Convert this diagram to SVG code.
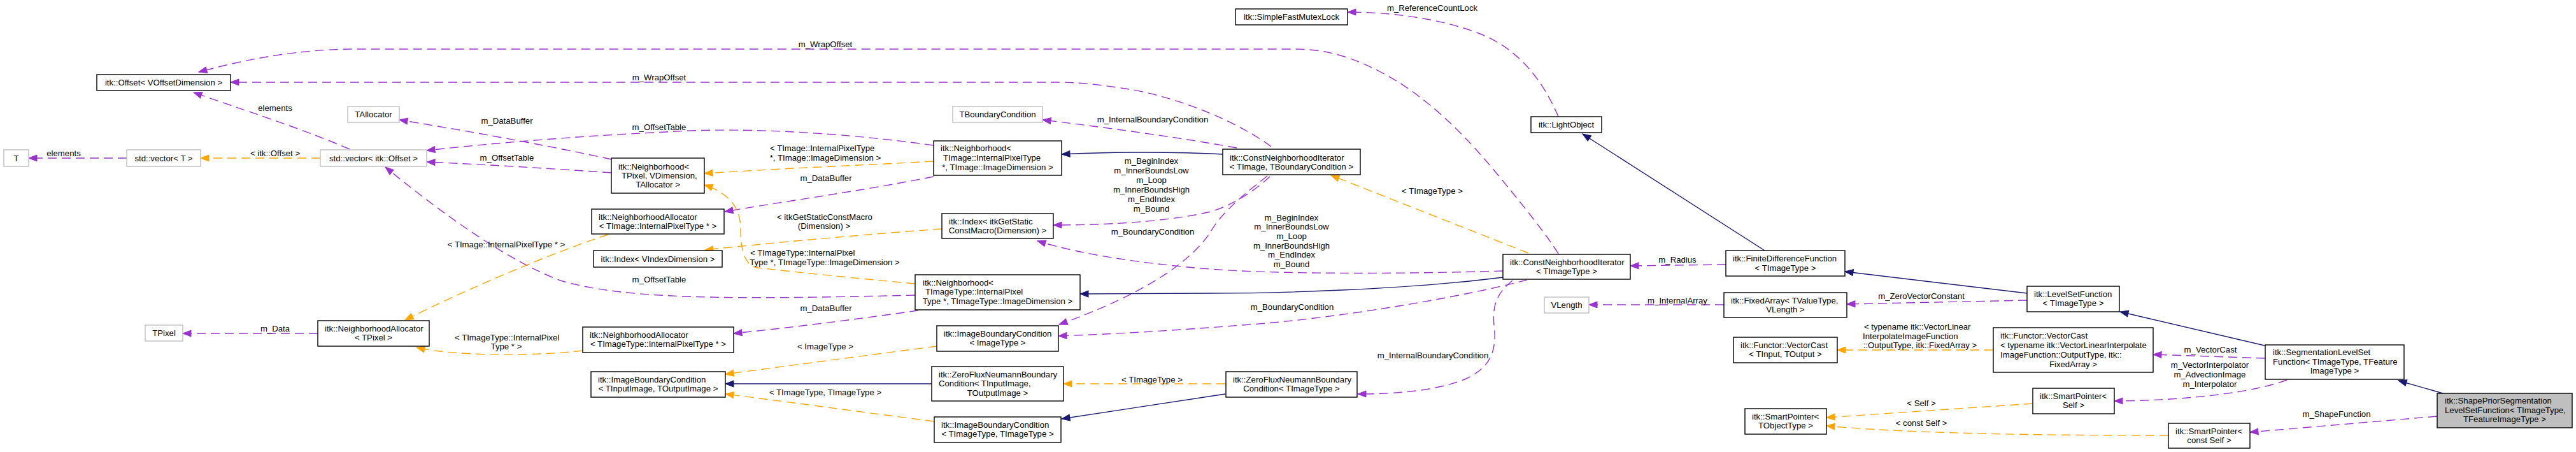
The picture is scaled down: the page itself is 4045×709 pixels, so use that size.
<svg xmlns="http://www.w3.org/2000/svg" width="4045" height="709" viewBox="0 0 4045 709">
<style>
text{font-family:"Liberation Sans",Arial,Helvetica,sans-serif;font-size:13.2px;fill:#000}
.m{text-anchor:middle}
.s{text-anchor:start}
.node rect{fill:#fff;stroke:#000;stroke-width:1.4}
.node.u rect{stroke:#bfbfbf}
.node.cur rect{fill:#bfbfbf}
.p{fill:none;stroke:#9a32cd;stroke-width:1.4;stroke-dasharray:14,8;marker-end:url(#ap)}
.o{fill:none;stroke:#ffa500;stroke-width:1.4;stroke-dasharray:14,8;marker-end:url(#ao)}
.b{fill:none;stroke:#191970;stroke-width:1.4;marker-end:url(#ab)}
</style>
<defs>
<marker id="ap" markerUnits="userSpaceOnUse" markerWidth="14" markerHeight="11" refX="13" refY="5" orient="auto" overflow="visible"><path d="M0,0L13,5L0,10z" fill="#9a32cd" stroke="#9a32cd" stroke-width="1"/></marker>
<marker id="ao" markerUnits="userSpaceOnUse" markerWidth="14" markerHeight="11" refX="13" refY="5" orient="auto" overflow="visible"><path d="M0,0L13,5L0,10z" fill="#ffa500" stroke="#ffa500" stroke-width="1"/></marker>
<marker id="ab" markerUnits="userSpaceOnUse" markerWidth="14" markerHeight="11" refX="13" refY="5" orient="auto" overflow="visible"><path d="M0,0L13,5L0,10z" fill="#191970" stroke="#191970" stroke-width="1"/></marker>
</defs>
<rect x="0" y="0" width="4045" height="709" fill="#fff"/>

<g id="edges">
<!-- purple (member) -->
<path class="p" d="M199,248L45,248"/>
<text class="m" x="100" y="244.5">elements</text>
<path class="p" d="M549,234C470,200 380,172 304,145"/>
<text class="m" x="432" y="173.5">elements</text>
<path class="p" d="M960,250C860,228 720,203 627,188"/>
<text class="m" x="796" y="193.5">m_DataBuffer</text>
<path class="p" d="M960,271C860,264 760,258 670,254"/>
<text class="m" x="796" y="251.5">m_OffsetTable</text>
<path class="p" d="M1466,228C1300,205 1150,200 1046,207C900,214 780,224 670,236"/>
<text class="m" x="1035" y="203.5">m_OffsetTable</text>
<path class="p" d="M1437,463C1150,470 980,470 880,440C800,410 700,340 605,262"/>
<text class="m" x="1035" y="442.5">m_OffsetTable</text>
<path class="p" d="M1466,277C1350,300 1250,313 1138,332"/>
<text class="m" x="1297" y="283.5">m_DataBuffer</text>
<path class="p" d="M1442,487C1350,500 1250,513 1152,523"/>
<text class="m" x="1297" y="487.5">m_DataBuffer</text>
<path class="p" d="M1996,230C1950,195 1850,150 1760,138C1720,132 1690,129 1660,129L362,129"/>
<text class="m" x="1035" y="125.5">m_WrapOffset</text>
<path class="p" d="M2447,398C2430,370 2390,320 2346,267C2300,212 2240,150 2168,113C2120,88 2080,77 2034,77L560,77C470,77 390,92 312,113"/>
<text class="m" x="1296" y="73.5">m_WrapOffset</text>
<path class="p" d="M1942,232C1850,215 1720,198 1637,188"/>
<text class="m" x="1810" y="191.5">m_InternalBoundaryCondition</text>
<path class="p" d="M1994,277C1970,300 1930,325 1897,333C1820,350 1720,353 1654,353"/>
<text class="m" x="1808" y="256.5">m_BeginIndex</text>
<text class="m" x="1808" y="271.5">m_InnerBoundsLow</text>
<text class="m" x="1808" y="286.5">m_Loop</text>
<text class="m" x="1808" y="301.5">m_InnerBoundsHigh</text>
<text class="m" x="1808" y="316.5">m_EndIndex</text>
<text class="m" x="1808" y="331.5">m_Bound</text>
<path class="p" d="M1990,276C1960,300 1920,330 1900,365C1870,410 1800,460 1663,509"/>
<text class="m" x="1810" y="367.5">m_BoundaryCondition</text>
<path class="p" d="M2360,425C2200,430 2000,430 1900,422C1800,414 1700,400 1629,378"/>
<text class="m" x="2028" y="345.5">m_BeginIndex</text>
<text class="m" x="2028" y="360">m_InnerBoundsLow</text>
<text class="m" x="2028" y="375">m_Loop</text>
<text class="m" x="2028" y="389.5">m_InnerBoundsHigh</text>
<text class="m" x="2028" y="404">m_EndIndex</text>
<text class="m" x="2028" y="418.5">m_Bound</text>
<path class="p" d="M2398,439C2300,465 2100,500 1950,510C1850,518 1750,524 1662,527"/>
<text class="m" x="2029" y="485.5">m_BoundaryCondition</text>
<path class="p" d="M2375,440C2350,460 2343,480 2346,510C2350,545 2345,575 2300,595C2250,615 2180,618 2132,618"/>
<text class="m" x="2250" y="561.5">m_InternalBoundaryCondition</text>
<path class="p" d="M2447,183C2420,120 2380,75 2324,53C2260,28 2180,19 2116,19"/>
<text class="m" x="2249" y="16.5">m_ReferenceCountLock</text>
<path class="p" d="M2710,415L2560,417"/>
<text class="m" x="2634" y="411.5">m_Radius</text>
<path class="p" d="M2707,478L2495,478"/>
<text class="m" x="2634" y="475.5">m_InternalArray</text>
<path class="p" d="M3183,471L2900,477"/>
<text class="m" x="3017" y="468.5">m_ZeroVectorConstant</text>
<path class="p" d="M3557,562L3381,556"/>
<text class="m" x="3471" y="552.5">m_VectorCast</text>
<path class="p" d="M3591,596C3540,615 3440,628 3320,629"/>
<text class="m" x="3470" y="576.5">m_VectorInterpolator</text>
<text class="m" x="3470" y="591.5">m_AdvectionImage</text>
<text class="m" x="3470" y="606.5">m_Interpolator</text>
<path class="p" d="M3827,653L3533,678"/>
<text class="m" x="3669" y="653.5">m_ShapeFunction</text>
<path class="p" d="M499,523L287,523"/>
<text class="m" x="432" y="519.5">m_Data</text>

<!-- orange (template instance) -->
<path class="o" d="M503,248L315,248"/>
<text class="m" x="432" y="244.5">&lt; itk::Offset &gt;</text>
<path class="o" d="M1466,253C1380,258 1250,263 1106,272"/>
<text class="s" x="1209" y="236.5">&lt; TImage::InternalPixelType</text>
<text class="m" x="1296" y="251.5">*, TImage::ImageDimension &gt;</text>
<path class="o" d="M1437,445C1350,437 1250,427 1190,420C1170,417 1163,395 1163,360C1163,330 1150,305 1106,290"/>
<text class="s" x="1178" y="400.5">&lt; TImageType::InternalPixel</text>
<text class="m" x="1295" y="415.5">Type *, TImageType::ImageDimension &gt;</text>
<path class="o" d="M1479,359C1380,366 1230,379 1107,392"/>
<text class="s" x="1220" y="344.5">&lt; itkGetStaticConstMacro</text>
<text class="m" x="1294" y="358.5">(Dimension) &gt;</text>
<path class="o" d="M955,368C900,385 760,440 636,502"/>
<text class="m" x="795" y="387.5">&lt; TImage::InternalPixelType * &gt;</text>
<path class="o" d="M915,550C850,558 720,560 654,545"/>
<text class="s" x="714" y="533.5">&lt; TImageType::InternalPixel</text>
<text class="m" x="795" y="547.5">Type * &gt;</text>
<path class="o" d="M1471,543C1380,555 1250,572 1139,587"/>
<text class="m" x="1296" y="547.5">&lt; ImageType &gt;</text>
<path class="o" d="M1467,661C1380,650 1250,632 1139,618"/>
<text class="m" x="1296" y="619.5">&lt; TImageType, TImageType &gt;</text>
<path class="o" d="M1924,602L1670,602"/>
<text class="m" x="1809" y="599.5">&lt; TImageType &gt;</text>
<path class="o" d="M2400,397L2090,275"/>
<text class="m" x="2249" y="303.5">&lt; TImageType &gt;</text>
<path class="o" d="M3130,549L2885,549"/>
<text class="s" x="2927" y="516.5">&lt; typename itk::VectorLinear</text>
<text class="s" x="2925" y="531.5">InterpolateImageFunction</text>
<text class="m" x="3015" y="545.5">::OutputType, itk::FixedArray &gt;</text>
<path class="o" d="M3192,633L2868,655"/>
<text class="m" x="3017" y="636.5">&lt; Self &gt;</text>
<path class="o" d="M3405,683C3200,683 3000,680 2868,668"/>
<text class="m" x="3017" y="667.5">&lt; const Self &gt;</text>

<!-- blue (inheritance) -->
<path class="b" d="M1920,242C1850,238 1750,238 1667,242"/>
<path class="b" d="M2360,435C2200,455 2000,460 1900,460L1696,461"/>
<path class="b" d="M1463,602L1139,602"/>
<path class="b" d="M1924,618L1667,657"/>
<path class="b" d="M2771,393L2485,210"/>
<path class="b" d="M3183,460L2897,426"/>
<path class="b" d="M3556,542L3329,489"/>
<path class="b" d="M3836,617L3766,597"/>
</g>

<g id="n_T" class="node u"><rect x="6" y="235" width="39" height="26"/><text class="m" x="25.5" y="252.5">T</text></g>
<g id="n_vecT" class="node u"><rect x="199" y="235" width="116" height="26"/><text class="m" x="257" y="252.5">std::vector&lt; T &gt;</text></g>
<g id="n_vecOffset" class="node u"><rect x="503" y="235" width="167" height="26"/><text class="m" x="586.5" y="252.5">std::vector&lt; itk::Offset &gt;</text></g>
<g id="n_Offset" class="node"><rect x="152" y="117" width="210" height="25"/><text class="m" x="257" y="134">itk::Offset&lt; VOffsetDimension &gt;</text></g>
<g id="n_TAllocator" class="node u"><rect x="546" y="167" width="81" height="25"/><text class="m" x="586.5" y="184">TAllocator</text></g>
<g id="n_TPixel" class="node u"><rect x="228" y="510" width="59" height="25"/><text class="m" x="257.5" y="527">TPixel</text></g>
<g id="n_NAllocTPixel" class="node"><rect x="499" y="503" width="175" height="40"/><text class="s" x="510" y="519.5">itk::NeighborhoodAllocator</text><text class="m" x="586.5" y="534">&lt; TPixel &gt;</text></g>
<g id="n_NbTPixel" class="node"><rect x="960" y="248" width="146" height="55"/><text class="s" x="971" y="265.5">itk::Neighborhood&lt;</text><text class="s" x="976" y="279.5">TPixel, VDimension,</text><text class="m" x="1033" y="293.5">TAllocator &gt;</text></g>
<g id="n_NAllocTImage" class="node"><rect x="929" y="328" width="208" height="39"/><text class="s" x="940" y="344.5">itk::NeighborhoodAllocator</text><text class="m" x="1033" y="358.5">&lt; TImage::InternalPixelType * &gt;</text></g>
<g id="n_IndexV" class="node"><rect x="932" y="393" width="202" height="26"/><text class="m" x="1033" y="410.5">itk::Index&lt; VIndexDimension &gt;</text></g>
<g id="n_NAllocTImageType" class="node"><rect x="915" y="513" width="237" height="40"/><text class="s" x="926" y="529.5">itk::NeighborhoodAllocator</text><text class="m" x="1033.5" y="544">&lt; TImageType::InternalPixelType * &gt;</text></g>
<g id="n_IBCInOut" class="node"><rect x="928" y="583" width="211" height="40"/><text class="s" x="939" y="599.5">itk::ImageBoundaryCondition</text><text class="m" x="1033.5" y="614">&lt; TInputImage, TOutputImage &gt;</text></g>
<g id="n_TBC" class="node u"><rect x="1496" y="167" width="141" height="25"/><text class="m" x="1566.5" y="184">TBoundaryCondition</text></g>
<g id="n_NbTImage" class="node"><rect x="1466" y="221" width="201" height="54"/><text class="s" x="1477" y="236.5">itk::Neighborhood&lt;</text><text class="s" x="1481" y="251.5">TImage::InternalPixelType</text><text class="m" x="1566.5" y="266.5">*, TImage::ImageDimension &gt;</text></g>
<g id="n_IndexGS" class="node"><rect x="1479" y="335" width="175" height="39"/><text class="s" x="1490" y="351.5">itk::Index&lt; itkGetStatic</text><text class="m" x="1566.5" y="365.5">ConstMacro(Dimension) &gt;</text></g>
<g id="n_NbTImageType" class="node"><rect x="1437" y="431" width="259" height="55"/><text class="s" x="1449" y="447.5">itk::Neighborhood&lt;</text><text class="s" x="1453" y="461.5">TImageType::InternalPixel</text><text class="m" x="1566.5" y="477">Type *, TImageType::ImageDimension &gt;</text></g>
<g id="n_IBCImage" class="node"><rect x="1471" y="511" width="191" height="40"/><text class="s" x="1482" y="527.5">itk::ImageBoundaryCondition</text><text class="m" x="1566.5" y="541.5">&lt; ImageType &gt;</text></g>
<g id="n_ZFNInOut" class="node"><rect x="1463" y="575" width="207" height="54"/><text class="s" x="1474" y="591.5">itk::ZeroFluxNeumannBoundary</text><text class="s" x="1474" y="606">Condition&lt; TInputImage,</text><text class="m" x="1566.5" y="621">TOutputImage &gt;</text></g>
<g id="n_IBCTT" class="node"><rect x="1467" y="654" width="199" height="40"/><text class="s" x="1478" y="671">itk::ImageBoundaryCondition</text><text class="m" x="1566.5" y="685">&lt; TImageType, TImageType &gt;</text></g>
<g id="n_SFML" class="node"><rect x="1940" y="14" width="176" height="25"/><text class="m" x="2028" y="31">itk::SimpleFastMutexLock</text></g>
<g id="n_LightObject" class="node"><rect x="2404" y="183" width="111" height="25"/><text class="m" x="2459.5" y="200">itk::LightObject</text></g>
<g id="n_CNITBC" class="node"><rect x="1920" y="234" width="216" height="40"/><text class="s" x="1931" y="251.5">itk::ConstNeighborhoodIterator</text><text class="m" x="2028" y="265.5">&lt; TImage, TBoundaryCondition &gt;</text></g>
<g id="n_CNITT" class="node"><rect x="2360" y="399" width="200" height="39"/><text class="s" x="2371" y="415.5">itk::ConstNeighborhoodIterator</text><text class="m" x="2460" y="429.5">&lt; TImageType &gt;</text></g>
<g id="n_ZFNT" class="node"><rect x="1925" y="583" width="206" height="40"/><text class="s" x="1936" y="599.5">itk::ZeroFluxNeumannBoundary</text><text class="m" x="2028" y="614">Condition&lt; TImageType &gt;</text></g>
<g id="n_VLength" class="node u"><rect x="2425" y="466" width="70" height="25"/><text class="m" x="2460" y="483">VLength</text></g>
<g id="n_FDF" class="node"><rect x="2710" y="393" width="187" height="40"/><text class="s" x="2721" y="409.5">itk::FiniteDifferenceFunction</text><text class="m" x="2803.5" y="424.5">&lt; TImageType &gt;</text></g>
<g id="n_FixedArray" class="node"><rect x="2707" y="459" width="193" height="39"/><text class="s" x="2718" y="475.5">itk::FixedArray&lt; TValueType,</text><text class="m" x="2803.5" y="489.5">VLength &gt;</text></g>
<g id="n_VectorCast" class="node"><rect x="2722" y="529" width="163" height="40"/><text class="s" x="2733" y="545.5">itk::Functor::VectorCast</text><text class="m" x="2803.5" y="560">&lt; TInput, TOutput &gt;</text></g>
<g id="n_SPTObj" class="node"><rect x="2740" y="641" width="128" height="40"/><text class="s" x="2751" y="657.5">itk::SmartPointer&lt;</text><text class="m" x="2804" y="672">TObjectType &gt;</text></g>
<g id="n_LSF" class="node"><rect x="3183" y="449" width="145" height="40"/><text class="s" x="3194" y="465.5">itk::LevelSetFunction</text><text class="m" x="3255.5" y="480">&lt; TImageType &gt;</text></g>
<g id="n_VectorCastT" class="node"><rect x="3130" y="514" width="251" height="70"/><text class="s" x="3141" y="530.5">itk::Functor::VectorCast</text><text class="s" x="3141" y="545.5">&lt; typename itk::VectorLinearInterpolate</text><text class="s" x="3141" y="560.5">ImageFunction::OutputType, itk::</text><text class="m" x="3255.5" y="575.5">FixedArray &gt;</text></g>
<g id="n_SPSelf" class="node"><rect x="3192" y="609" width="128" height="40"/><text class="s" x="3203" y="625.5">itk::SmartPointer&lt;</text><text class="m" x="3256" y="640">Self &gt;</text></g>
<g id="n_SLSF" class="node"><rect x="3557" y="541" width="218" height="54"/><text class="s" x="3569" y="556.5">itk::SegmentationLevelSet</text><text class="s" x="3569" y="571.5">Function&lt; TImageType, TFeature</text><text class="m" x="3666" y="586">ImageType &gt;</text></g>
<g id="n_ShapePrior" class="node cur"><rect x="3827" y="617" width="212" height="54"/><text class="s" x="3839" y="632.5">itk::ShapePriorSegmentation</text><text class="s" x="3839" y="647.5">LevelSetFunction&lt; TImageType,</text><text class="m" x="3933" y="662">TFeatureImageType &gt;</text></g>
<g id="n_SPConstSelf" class="node"><rect x="3405" y="664" width="128" height="39"/><text class="s" x="3416" y="680.5">itk::SmartPointer&lt;</text><text class="m" x="3469" y="695">const Self &gt;</text></g>
</svg>
